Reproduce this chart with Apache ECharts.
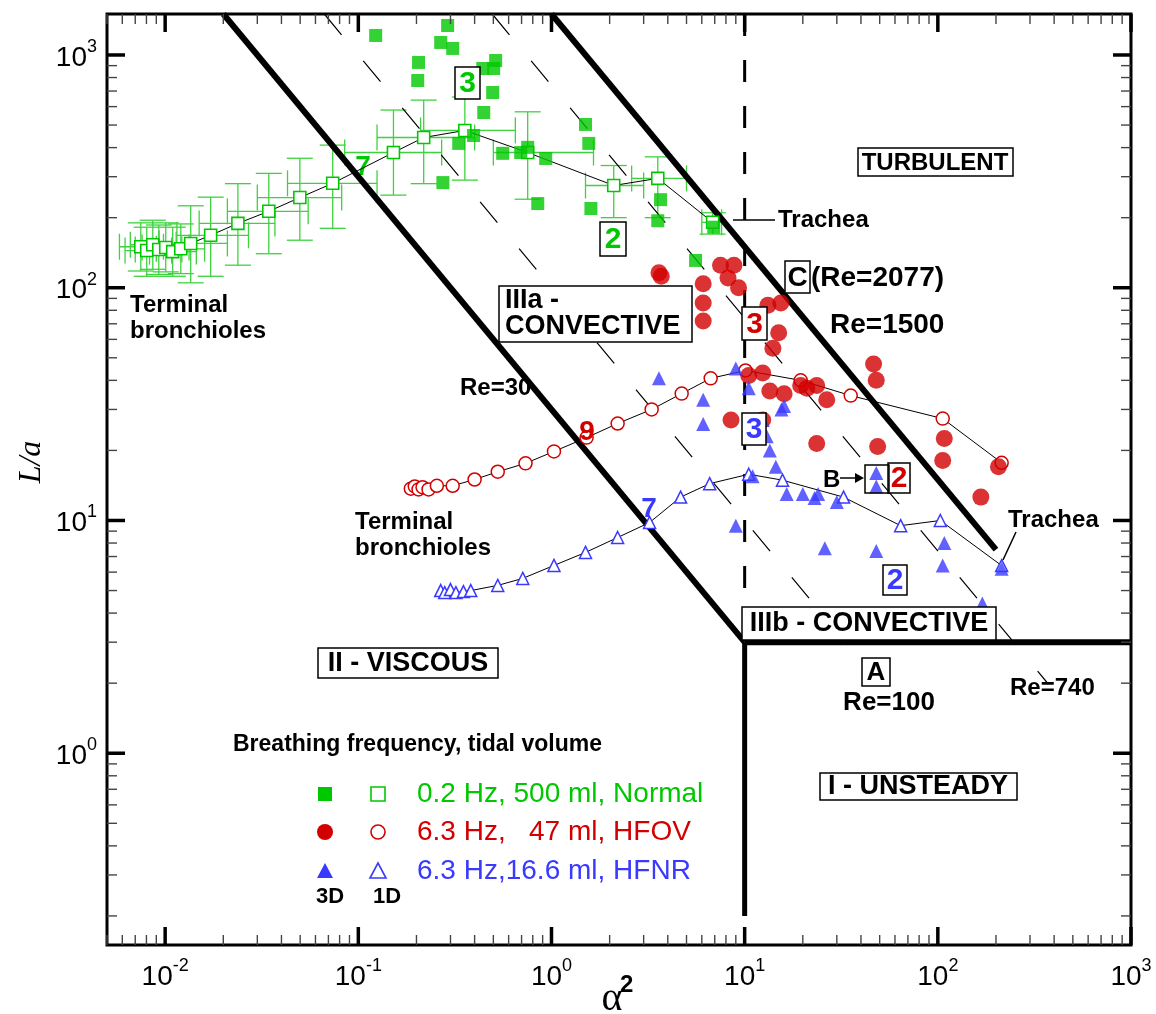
<!DOCTYPE html>
<html><head><meta charset="utf-8">
<script src="https://cdn.jsdelivr.net/npm/echarts@6/dist/echarts.min.js"></script>
<style>html,body{margin:0;padding:0;background:#fff}#chart{width:1156px;height:1014px}</style>
</head><body><div id="chart"></div>
<script>
// ---- colours ----
const GREEN = '#00c800', GREEN_ERR = '#3fd23f', RED = '#d20000', BLUE = '#3a3aff';

// ---- axis ranges ----
const xRange = [0.005, 1000];
const yRange = [0.15, 1500];

// ---- 0.2 Hz, 500 ml, Normal ----
const normal3D = [[0.123,1213],[0.290,1339],[0.267,1132],[0.308,1067],[0.205,929],[0.203,777],[0.441,875],[0.514,947],[0.502,875],[0.496,690],[0.446,566],[0.331,417],[0.395,451],[0.559,378],[0.693,381],[0.753,401],[0.933,359],[0.274,283],[0.849,230],[1.50,503],[1.56,417],[1.60,219],[3.67,239],[3.55,194],[6.92,182],[5.57,131]];
const normal1D = [[0.00748,150],[0.00803,144.5],[0.00863,153],[0.00927,146],[0.01007,149],[0.01094,143],[0.01205,147],[0.01356,155],[0.0172,168],[0.0238,189],[0.0344,213],[0.0498,244],[0.0737,281],[0.152,381],[0.218,442],[0.356,474],[0.753,381],[2.10,275],[3.55,295],[6.83,191]];
// spread of each 1D point: [xLow, xHigh, yLow, yHigh]
const normal1DErr = [[0.0058,0.0098,118,190],[0.0062,0.0108,112,182],[0.0066,0.0114,120,195],[0.0070,0.0122,114,186],[0.0076,0.0133,117,190],[0.0083,0.0145,112,182],[0.0090,0.0160,115,188],[0.0093,0.021,105,225],[0.0115,0.027,112,245],[0.015,0.037,125,280],[0.021,0.055,140,310],[0.030,0.082,160,360],[0.043,0.125,180,410],[0.085,0.27,250,580],[0.125,0.40,280,640],[0.21,0.65,290,660],[0.50,1.65,240,570],[1.5,3.0,200,335],[2.6,5.0,200,365],[6.0,7.6,170,210]];

// ---- 6.3 Hz, 47 ml, HFOV ----
const hfov3D = [[3.6,116],[3.7,112],[6.1,104],[7.5,125],[8.8,125],[8.2,110],[9.3,100],[6.1,86],[6.1,72],[13.2,84],[15.4,86],[15.0,64],[14.0,55],[12.4,43],[13.5,36],[16,35],[19.5,38],[21,37],[23.6,38],[26.6,33],[10.5,42],[8.5,27],[12.4,27],[23.6,21.4],[48.8,20.8],[46.5,47],[48,40],[106,18.1],[108,22.5],[206,17],[167,12.6]];
const hfov1D = [[0.187,13.7],[0.196,14.0],[0.205,13.6],[0.215,13.9],[0.231,13.6],[0.255,14.1],[0.308,14.1],[0.400,15.0],[0.527,16.2],[0.734,17.6],[1.03,19.8],[1.52,22.7],[2.20,26.1],[3.30,30.0],[4.72,35.1],[6.67,40.8],[10.1,44.1],[19.5,40.0],[35.4,34.4],[106,27.4],[214,17.7]];

// ---- 6.3 Hz, 16.6 ml, HFNR ----
const hfnr3D = [[3.6,40.8],[6.1,33],[6.1,26],[9.0,45],[10.5,37],[12.4,27],[13,23],[13.5,20],[14.5,17],[15.5,30],[16,31],[16.5,13],[20,13],[23,12.5],[24,13],[26,7.6],[9,9.5],[30,12],[48,16],[48,14],[48,7.4],[106,6.4],[108,8],[170,4.4],[214,6.2],[11,15.5]];
const hfnr1D = [[0.267,5.0],[0.28,4.9],[0.30,5.05],[0.32,4.9],[0.35,4.95],[0.382,5.0],[0.527,5.26],[0.710,5.64],[1.03,6.41],[1.50,7.29],[2.20,8.45],[3.22,9.8],[4.66,12.6],[6.59,14.4],[10.5,15.8],[15.7,14.9],[32.5,12.6],[64.2,9.5],[103,10],[214,6.4]];

// ---- regime boundaries (L/a * alpha^2 = Re) ----
const reViscous = 30, reTurbulent = 1500, reDashed = [100, 740];
const reTurbulentEnd = 200, reDashedEnd = [45, 374];
const alphaSqSplit = 10, laSplit = 3, laFloor = 0.2;

const FONT = 'Liberation Sans, Arial, Helvetica, sans-serif';
const SERIF = 'Liberation Serif, Times New Roman, serif';

// axis ticks: majors at decades, minors at 2..9
function tickItems() {
  const out = [];
  for (let e = -3; e <= 3; e++) for (let m = 1; m <= 9; m++) {
    const v = m * Math.pow(10, e);
    if (v >= xRange[0] * 0.999 && v <= xRange[1] * 1.001) out.push([v, 1, 0, m === 1 ? 1 : 0]);
    if (v >= yRange[0] * 0.999 && v <= yRange[1] * 1.001) out.push([1, v, 1, m === 1 ? 1 : 0]);
  }
  return out;
}

// constant-Re line: L/a = Re / alpha^2
function hyper(re, x0, x1) { return [[x0, re / x0], [x1, re / x1]]; }

const chart = echarts.init(document.getElementById('chart'), null, {renderer: 'canvas'});

function pow10Label(v) {
  const e = Math.round(Math.log10(v));
  if (Math.abs(v / Math.pow(10, e) - 1) > 1e-6) return '';
  return '{b|10}{s|' + e + '}';
}
const labelRich = {
  b: {fontFamily: FONT, fontSize: 28, color: '#000', verticalAlign: 'bottom', lineHeight: 34},
  s: {fontFamily: FONT, fontSize: 18, color: '#000', verticalAlign: 'top', lineHeight: 34, padding: [0, 0, 12, 0]}
};

const lineS = (data, width, extra) => Object.assign({
  type: 'line', data, symbol: 'none', silent: true, z: 5, animation: false,
  lineStyle: {color: '#000', width}
}, extra || {});
const dashed = (data) => lineS(data, 1.2, {lineStyle: {color: '#000', width: 1.2, type: [27, 34]}});

const series = [
  // axis ticks on all four sides
  {
    type: 'custom', data: tickItems(), z: 20, silent: true, clip: false, animation: false,
    renderItem(params, api) {
      const cs = params.coordSys;
      const major = api.value(3) === 1;
      const p = api.coord([api.value(0), api.value(1)]);
      const len = major ? 18 : 10;
      const style = {stroke: major ? '#000' : '#444', lineWidth: major ? 3.5 : 1.4};
      if (api.value(2) === 0) {
        const x = p[0], yb = cs.y + cs.height, yt = cs.y;
        return {type: 'group', children: [
          {type: 'line', shape: {x1: x, y1: yb, x2: x, y2: yb - len}, style},
          {type: 'line', shape: {x1: x, y1: yt, x2: x, y2: yt + len}, style}]};
      }
      const y = p[1], xl = cs.x, xr = cs.x + cs.width;
      return {type: 'group', children: [
        {type: 'line', shape: {x1: xl, y1: y, x2: xl + len, y2: y}, style},
        {type: 'line', shape: {x1: xr, y1: y, x2: xr - len, y2: y}, style}]};
    }
  },
  // regime boundaries
  lineS(hyper(reViscous, reViscous / yRange[1], alphaSqSplit), 6),
  lineS(hyper(reTurbulent, reTurbulent / yRange[1], reTurbulentEnd), 6),
  lineS([[alphaSqSplit, laSplit], [alphaSqSplit, laFloor]], 5),
  lineS([[alphaSqSplit, laSplit], [xRange[1], laSplit]], 6),
  lineS([[alphaSqSplit, yRange[1]], [alphaSqSplit, laSplit]], 3, {lineStyle: {color: '#000', width: 3, type: [22, 24]}}),
  dashed(hyper(reDashed[0], reDashed[0] / yRange[1], reDashedEnd[0])),
  dashed(hyper(reDashed[1], reDashed[1] / yRange[1], reDashedEnd[1])),
  // error bars of the 1D normal-breathing model
  {
    type: 'custom', z: 2, silent: true, animation: false,
    data: normal1D.map((p, i) => [p[0], p[1]].concat(normal1DErr[i])),
    renderItem(params, api) {
      const c = api.coord([api.value(0), api.value(1)]);
      const xl = api.coord([api.value(2), api.value(1)])[0];
      const xh = api.coord([api.value(3), api.value(1)])[0];
      const yl = api.coord([api.value(0), api.value(4)])[1];
      const yh = api.coord([api.value(0), api.value(5)])[1];
      const st = {stroke: GREEN_ERR, lineWidth: 1.3};
      const cap = 13;
      const L = (x1, y1, x2, y2) => ({type: 'line', shape: {x1, y1, x2, y2}, style: st});
      return {type: 'group', children: [
        L(xl, c[1], xh, c[1]), L(c[0], yl, c[0], yh),
        L(xl, c[1] - cap, xl, c[1] + cap), L(xh, c[1] - cap, xh, c[1] + cap),
        L(c[0] - cap, yl, c[0] + cap, yl), L(c[0] - cap, yh, c[0] + cap, yh)]};
    }
  },
  // 1D model curves
  {type: 'line', data: normal1D, z: 6, animation: false, symbol: 'rect', symbolSize: 12,
   itemStyle: {color: '#fff', borderColor: GREEN, borderWidth: 1.6}, lineStyle: {color: '#000', width: 1}},
  {type: 'line', data: hfov1D, z: 6, animation: false, symbol: 'circle', symbolSize: 13,
   itemStyle: {color: '#fff', borderColor: RED, borderWidth: 1.5}, lineStyle: {color: '#000', width: 1}},
  {type: 'line', data: hfnr1D, z: 6, animation: false, symbol: 'triangle', symbolSize: 12,
   itemStyle: {color: '#fff', borderColor: BLUE, borderWidth: 1.5}, lineStyle: {color: '#000', width: 1}},
  // 3D results
  {type: 'scatter', data: normal3D, z: 7, animation: false, symbol: 'rect', symbolSize: 13, itemStyle: {color: GREEN}},
  {type: 'scatter', data: hfov3D, z: 7, animation: false, symbol: 'circle', symbolSize: 17, itemStyle: {color: RED}},
  {type: 'scatter', data: hfnr3D, z: 7, animation: false, symbol: 'triangle', symbolSize: 14, itemStyle: {color: BLUE}}
];

// ---- annotations ----
const G = [];
function txt(x, y, text, o) {
  o = o || {};
  G.push({type: 'text', z: o.z || 50, x, y, style: {
    text, fill: o.color || '#000', font: (o.weight || 'bold') + ' ' + (o.size || 24) + 'px ' + (o.family || FONT),
    align: o.align || 'left', verticalAlign: o.va || 'middle'}});
}
function box(x1, y1, x2, y2) {
  G.push({type: 'rect', z: 45, shape: {x: x1, y: y1, width: x2 - x1, height: y2 - y1},
          style: {fill: '#fff', stroke: '#000', lineWidth: 1.5}});
}
function boxed(x1, y1, x2, y2, text, color, size) {
  box(x1, y1, x2, y2);
  txt((x1 + x2) / 2, (y1 + y2) / 2 + 1, text, {color, size: size || 30, align: 'center'});
}
function seg(x1, y1, x2, y2, w) {
  G.push({type: 'line', z: 45, shape: {x1, y1, x2, y2}, style: {stroke: '#000', lineWidth: w || 1.5}});
}

txt(130, 305, 'Terminal');
txt(130, 331, 'bronchioles');
txt(355, 522, 'Terminal');
txt(355, 548, 'bronchioles');
txt(460, 388, 'Re=30');
txt(363, 167, '7', {color: GREEN, size: 28, align: 'center', z: 1});
txt(587, 432, '9', {color: RED, size: 28, align: 'center'});
txt(649, 509, '7', {color: BLUE, size: 28, align: 'center'});
boxed(455, 67, 480, 99, '3', GREEN);
boxed(600, 222, 626, 256, '2', GREEN);
boxed(742, 307, 767, 340, '3', RED);
boxed(742, 413, 766, 445, '3', BLUE);
boxed(888, 463, 910, 493, '2', RED);
boxed(883, 565, 907, 595, '2', BLUE);
box(858, 148, 1013, 176); txt(935, 163, 'TURBULENT', {align: 'center'});
boxed(785, 261, 810, 293, 'C', '#000', 28);
txt(811, 278, '(Re=2077)', {size: 28});
txt(830, 325, 'Re=1500', {size: 28});
seg(733, 220, 775, 220);
txt(778, 220, 'Trachea');
seg(1003, 560, 1016, 532);
txt(1008, 520, 'Trachea');
box(499, 286, 692, 342); txt(505, 301, 'IIIa -', {size: 27}); txt(505, 327, 'CONVECTIVE', {size: 27});
box(742, 607, 996, 640); txt(869, 624, 'IIIb - CONVECTIVE', {align: 'center', size: 27});
box(318, 648, 498, 678); txt(408, 664, 'II - VISCOUS', {align: 'center', size: 27});
box(820, 773, 1017, 800); txt(918, 787, 'I - UNSTEADY', {align: 'center', size: 27});
boxed(862, 658, 890, 686, 'A', '#000', 26);
txt(889, 703, 'Re=100', {align: 'center', size: 26});
txt(1010, 688, 'Re=740');
txt(823, 480, 'B');
seg(840, 478, 858, 478);
G.push({type: 'polygon', z: 45, shape: {points: [[864, 478], [855, 473], [855, 483]]}, style: {fill: '#000'}});
G.push({type: 'rect', z: 45, shape: {x: 865, y: 465, width: 24, height: 28}, style: {fill: 'none', stroke: '#000', lineWidth: 1.5}});

// legend
txt(233, 745, 'Breathing frequency, tidal volume', {size: 23});
const legendRows = [
  {y: 794, color: GREEN, shape: 'rect', label: '0.2 Hz, 500 ml, Normal'},
  {y: 832, color: RED, shape: 'circle', label: '6.3 Hz,   47 ml, HFOV'},
  {y: 871, color: BLUE, shape: 'tri', label: '6.3 Hz,16.6 ml, HFNR'}
];
function legendSym(cx, cy, shape, color, filled) {
  const style = filled ? {fill: color} : {fill: '#fff', stroke: color, lineWidth: 1.6};
  if (shape === 'rect') G.push({type: 'rect', z: 50, shape: {x: cx - 7, y: cy - 7, width: 14, height: 14}, style});
  else if (shape === 'circle') G.push({type: 'circle', z: 50, shape: {cx, cy, r: filled ? 8 : 7}, style});
  else G.push({type: 'polygon', z: 50, shape: {points: [[cx, cy - 8], [cx + 8, cy + 7], [cx - 8, cy + 7]]}, style});
}
legendRows.forEach(r => {
  legendSym(325, r.y, r.shape, r.color, true);
  legendSym(378, r.y, r.shape, r.color, false);
  txt(417, r.y, r.label, {color: r.color, weight: 'normal', size: 28});
});
txt(316, 897, '3D', {size: 22});
txt(373, 897, '1D', {size: 22});

// axis titles
G.push({type: 'text', z: 50, x: 32, y: 462, rotation: Math.PI / 2, style: {
  text: 'L/a', fill: '#000', font: 'italic 32px ' + SERIF, align: 'center', verticalAlign: 'middle'}});
txt(612, 999, 'α', {weight: 'normal', size: 40, family: SERIF, align: 'center'});
txt(620, 985, '2', {size: 24});

chart.setOption({
  animation: false,
  grid: {left: 107, right: 25, top: 14, bottom: 69, show: true, borderColor: '#000', borderWidth: 3, backgroundColor: 'transparent'},
  xAxis: {type: 'log', logBase: 10, min: xRange[0], max: xRange[1],
    axisLine: {show: false}, axisTick: {show: false}, splitLine: {show: false}, minorTick: {show: false},
    axisLabel: {formatter: pow10Label, rich: labelRich, margin: 12, showMinLabel: true, showMaxLabel: true}},
  yAxis: {type: 'log', logBase: 10, min: yRange[0], max: yRange[1],
    axisLine: {show: false}, axisTick: {show: false}, splitLine: {show: false},
    axisLabel: {formatter: pow10Label, rich: labelRich, margin: 10}},
  series,
  graphic: {elements: G}
});
</script>
</body></html>
